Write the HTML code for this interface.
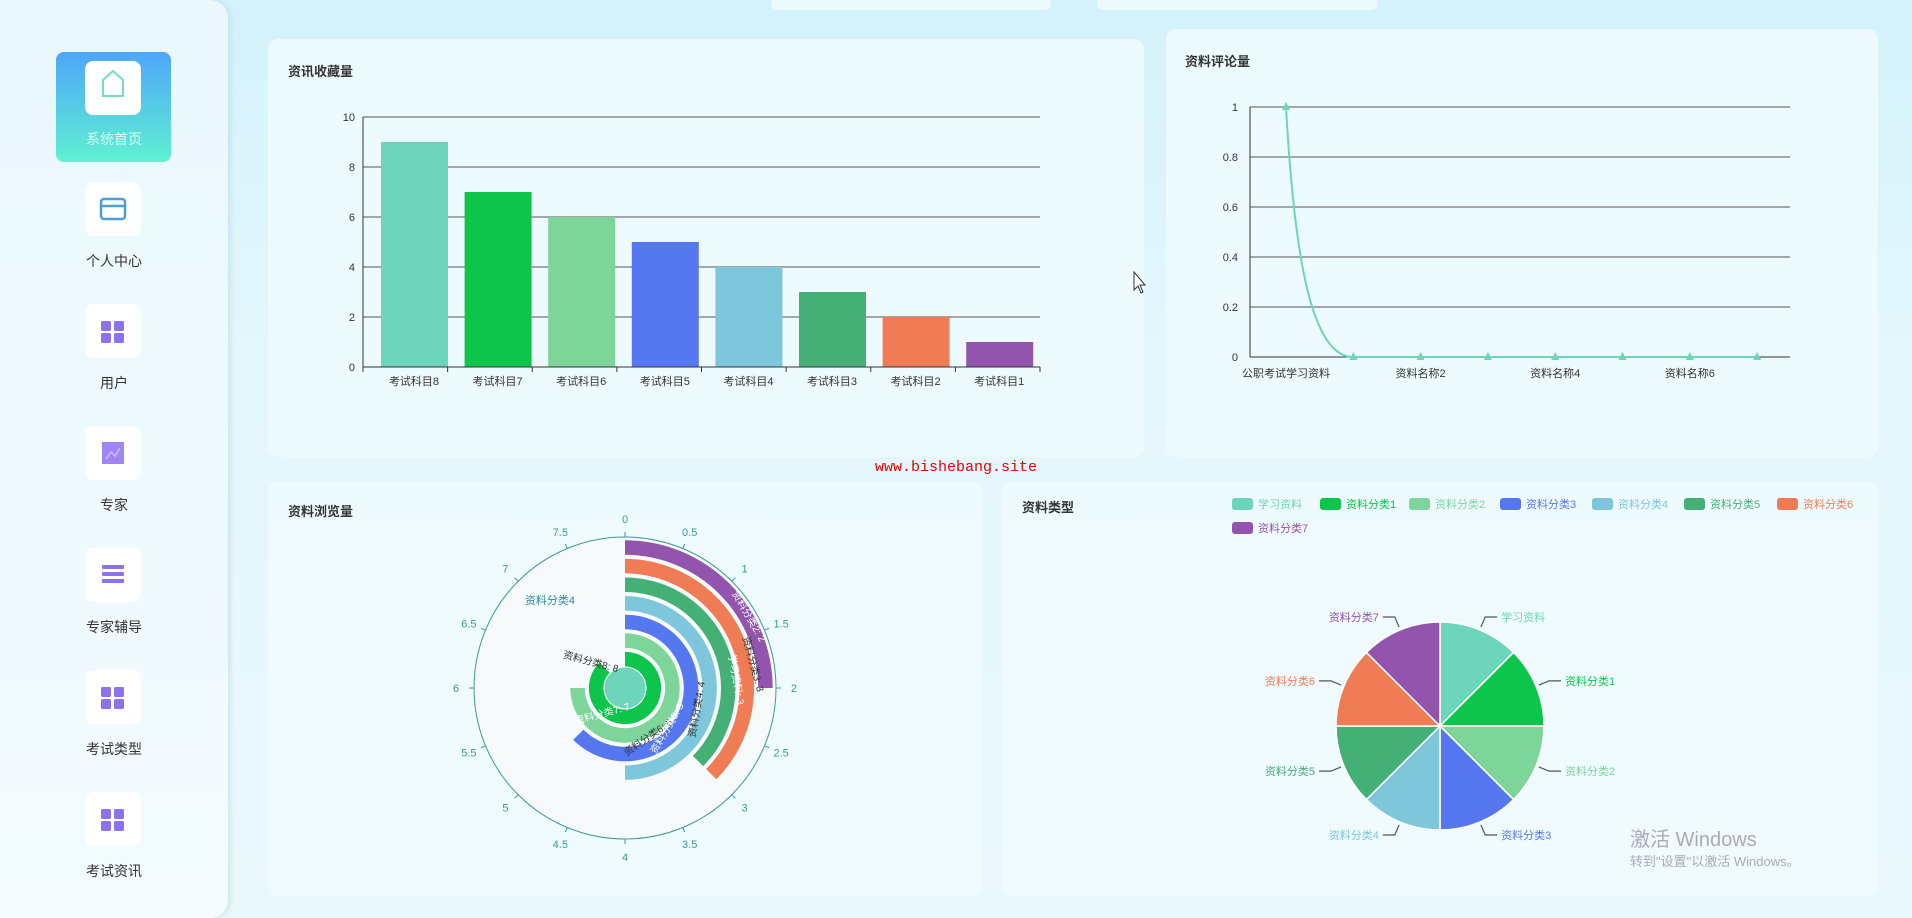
<!DOCTYPE html>
<html><head><meta charset="utf-8"><style>
*{margin:0;padding:0;box-sizing:border-box}
body{width:1912px;height:918px;overflow:hidden;background:linear-gradient(180deg,#d3f2fb 0%,#e4f7fc 40%,#eaf8fc 100%);font-family:"Liberation Sans","Noto Sans CJK SC",sans-serif;position:relative}
.side{position:absolute;left:0;top:0;width:228px;height:918px;background:linear-gradient(180deg,#eaf8fd,#f3fbfe);border-radius:0 18px 18px 0;box-shadow:2px 0 6px rgba(150,190,210,.35)}
.act{position:absolute;left:56px;top:52px;width:115px;height:110px;border-radius:8px;background:linear-gradient(180deg,#4ea6f9,#5ff1d1)}
.ib{position:absolute;left:85px;width:56px;height:54px;background:#fff;border-radius:8px}
.lb{position:absolute;left:0;width:228px;text-align:center;font-size:14px;color:#333}
.card{position:absolute;background:rgba(240,252,254,.85);border-radius:10px}
.t{position:absolute;font-size:13px;color:#333;font-weight:bold}
svg{position:absolute;left:0;top:0}
</style></head><body>
<div class="card" style="left:771px;top:-4px;width:280px;height:14px"></div>
<div class="card" style="left:1097px;top:-4px;width:281px;height:14px"></div>
<div class="side">
<div class="act"></div>
<div class="ib" style="top:61px"></div>
<div class="lb" style="top:129px;color:#d8fff2">系统首页</div>
<div class="ib" style="top:182px"></div><div class="lb" style="top:251px">个人中心</div>
<div class="ib" style="top:304px"></div><div class="lb" style="top:373px">用户</div>
<div class="ib" style="top:426px"></div><div class="lb" style="top:495px">专家</div>
<div class="ib" style="top:548px"></div><div class="lb" style="top:617px">专家辅导</div>
<div class="ib" style="top:670px"></div><div class="lb" style="top:739px">考试类型</div>
<div class="ib" style="top:792px"></div><div class="lb" style="top:861px">考试资讯</div>
</div>
<div class="card" style="left:268px;top:39px;width:876px;height:418px"></div>
<div class="card" style="left:1166px;top:29px;width:712px;height:428px"></div>
<div class="card" style="left:268px;top:482px;width:714px;height:414px"></div>
<div class="card" style="left:1002px;top:482px;width:876px;height:414px"></div>
<div class="t" style="left:288px;top:61px">资讯收藏量</div>
<div class="t" style="left:1185px;top:51px">资料评论量</div>
<div class="t" style="left:288px;top:501px">资料浏览量</div>
<div class="t" style="left:1022px;top:497px">资料类型</div>
<div style="position:absolute;left:875px;top:459px;font-family:'Liberation Mono',monospace;font-size:15px;color:#e00">www.bishebang.site</div>
<div style="position:absolute;left:1630px;top:823px;font-size:20px;color:#aab">激活 Windows</div>
<div style="position:absolute;left:1630px;top:851px;font-size:13px;color:#aab">转到"设置"以激活 Windows。</div>
<svg id="s" width="1912" height="918" font-family="Liberation Sans,Noto Sans CJK SC,sans-serif"></svg>
<script>
var C=['#6dd5b9','#0cc54a','#7dd59a','#5578f0','#7ec6dc','#45b075','#f07c55','#9354ad'];
var h='';
function L(x1,y1,x2,y2,c,w){h+='<line x1="'+x1+'" y1="'+y1+'" x2="'+x2+'" y2="'+y2+'" stroke="'+c+'" stroke-width="'+(w||1)+'"/>';}
function T(x,y,s,c,sz,a,ex){h+='<text x="'+x+'" y="'+y+'" fill="'+c+'" font-size="'+sz+'" text-anchor="'+(a||'start')+'" '+(ex||'')+'>'+s+'</text>';}
h+='<path d="M103 80 L113 71 L123 80 L123 96 L103 96Z" fill="none" stroke="#6ee0be" stroke-width="2"/>';
h+='<rect x="101" y="199" width="24" height="20" rx="3" fill="none" stroke="#4a9fe0" stroke-width="2.5"/><line x1="101" y1="206" x2="125" y2="206" stroke="#4a9fe0" stroke-width="2.5"/>';
[331,697,819].forEach(function(y){[101,114].forEach(function(x){[y-10,y+2].forEach(function(yy){h+='<rect x="'+x+'" y="'+yy+'" width="10" height="10" rx="1.5" fill="#8c72ee"/>';});});});
h+='<rect x="102" y="442" width="22" height="22" fill="#9f86f2"/><polyline points="106,459 111,452 115,456 120,448" fill="none" stroke="#c9bcfa" stroke-width="1.5"/>';
h+='<rect x="102" y="565" width="22" height="4" rx="1" fill="#8c72ee"/><rect x="102" y="572" width="22" height="4" rx="1" fill="#8c72ee"/><rect x="102" y="579" width="22" height="4" rx="1" fill="#8c72ee"/>';
var x0=363,x1=1040,y0=367,yt=117;
for(var i=0;i<=5;i++){var y=y0-i*50;L(x0,y,x1,y,'#555');T(x0-8,y+4,i*2,'#333',11,'end');}
L(x0,yt,x0,y0,'#333');
var vals=[9,7,6,5,4,3,2,1],cw=(x1-x0)/8;
for(var i=0;i<8;i++){var cx=414+i*83.6,bh=vals[i]*25;h+='<rect x="'+(cx-33)+'" y="'+(y0-bh)+'" width="67" height="'+bh+'" fill="'+C[i]+'"/>';L(x0+cw*i,y0,x0+cw*i,y0+5,'#333');T(cx,y0+18,'考试科目'+(8-i),'#333',11,'middle');}
L(x1,y0,x1,y0+5,'#333');L(x0,y0,x1,y0,'#333');
var lx0=1250,lx1=1790,ly0=357,ly1=107;
for(var i=0;i<=5;i++){var y=ly0-i*50;L(lx0,y,lx1,y,'#555');T(lx0-12,y+4,[0,0.2,0.4,0.6,0.8,1][i],'#333',11,'end');}
L(lx0,ly1,lx0,ly0,'#333');L(lx0,ly0,lx1,ly0,'#333');
h+='<path d="M1286 107 C1294 250 1310 357 1353 357 L1757 357" fill="none" stroke="#6dd5b9" stroke-width="2"/>';
for(var i=0;i<8;i++){var px=1286+i*67.3,py=i?357:107;h+='<polygon points="'+px+','+(py-5)+' '+(px-4)+','+(py+3)+' '+(px+4)+','+(py+3)+'" fill="#6dd5b9"/>';}
['公职考试学习资料','资料名称2','资料名称4','资料名称6'].forEach(function(s,i){T(1286+i*134.6,377,s,'#333',11,'middle');});
var pcx=625,pcy=688,R=151;
h+='<circle cx="'+pcx+'" cy="'+pcy+'" r="'+R+'" fill="#f6fafb" stroke="#3a9a9a" stroke-width="1"/>';
function P(r,a){return [pcx+r*Math.sin(a),pcy-r*Math.cos(a)];}
for(var k=0;k<16;k++){var a=k*Math.PI/8,p1=P(R,a),p2=P(R+5,a),p3=P(R+18,a);L(p1[0],p1[1],p2[0],p2[1],'#3a9a9a');T(p3[0],p3[1]+4,k/2,'#3a9a9a',11,'middle');}
var pv=[8,7,6,5,4,3,3,2];
for(var i=0;i<8;i++){var ri=i*18.6+3,ro=ri+14.5,a=pv[i]*Math.PI/4;
 if(pv[i]>=8){h+='<circle cx="'+pcx+'" cy="'+pcy+'" r="'+((ri+ro)/2)+'" fill="none" stroke="'+C[i]+'" stroke-width="'+(ro-ri+6)+'"/>';continue;}
 var a1=P(ro,0),a2=P(ro,a),b2=P(ri,a),b1=P(ri,0),lg=a>Math.PI?1:0;
 h+='<path d="M'+a1+' A'+ro+' '+ro+' 0 '+lg+' 1 '+a2+' L'+b2+' A'+ri+' '+ri+' 0 '+lg+' 0 '+b1+'Z" fill="'+C[i]+'"/>';}
T(575,604,'资料分类4','#2a8aa0',11,'end');
T(590,665,'资料分类8: 8','#333',10,'middle','transform="rotate(15 590 665)"');
T(603,717,'资料分类7: 7','#fff',10,'middle','transform="rotate(-15 603 717)"');
T(650,740,'资料分类6: 6','#333',10,'middle','transform="rotate(-35 650 740)"');
T(670,730,'资料分类5: 5','#fff',10,'middle','transform="rotate(-60 670 730)"');
T(700,710,'资料分类4: 4','#333',10,'middle','transform="rotate(-80 700 710)"');
T(733,680,'学习资料: 3','#fff',10,'middle','transform="rotate(80 733 680)"');
T(750,665,'资料分类3: 3','#333',10,'middle','transform="rotate(75 750 665)"');
T(746,618,'资料分类2: 2','#fff',10,'middle','transform="rotate(60 746 618)"');
var qx=1440,qy=726,qr=104,nm=['学习资料','资料分类1','资料分类2','资料分类3','资料分类4','资料分类5','资料分类6','资料分类7'];
function Q(r,a){return [qx+r*Math.sin(a),qy-r*Math.cos(a)];}
for(var i=0;i<8;i++){var a0=i*Math.PI/4,a1=a0+Math.PI/4,p=Q(qr,a0),q=Q(qr,a1);
 h+='<path d="M'+qx+','+qy+' L'+p+' A'+qr+' '+qr+' 0 0 1 '+q+'Z" fill="'+C[i]+'" stroke="#fff" stroke-width="1.5"/>';
 var m=a0+Math.PI/8,m1=Q(qr+3,m),m2=Q(qr+14,m),rt=Math.sin(m)>0,ex=m2[0]+(rt?12:-12);
 h+='<polyline points="'+m1+' '+m2+' '+ex+','+m2[1]+'" fill="none" stroke="#555" stroke-width="1.2"/>';
 T(ex+(rt?4:-4),m2[1]+4,nm[i],C[i],11,rt?'start':'end');}
var lx=[1232,1320,1409,1500,1592,1684,1777];
for(var i=0;i<8;i++){var x=i<7?lx[i]:1232,y=i<7?504:528;h+='<rect x="'+x+'" y="'+(y-6)+'" width="21" height="12" rx="3" fill="'+C[i]+'"/>';T(x+26,y+4,nm[i],C[i],11);}
h+='<path d="M1134 272 L1134 290 L1138 286 L1141 293 L1143 292 L1140 285 L1145 285Z" fill="#fff" stroke="#333" stroke-width="1"/>';
document.getElementById('s').innerHTML=h;
</script>
</body></html>
